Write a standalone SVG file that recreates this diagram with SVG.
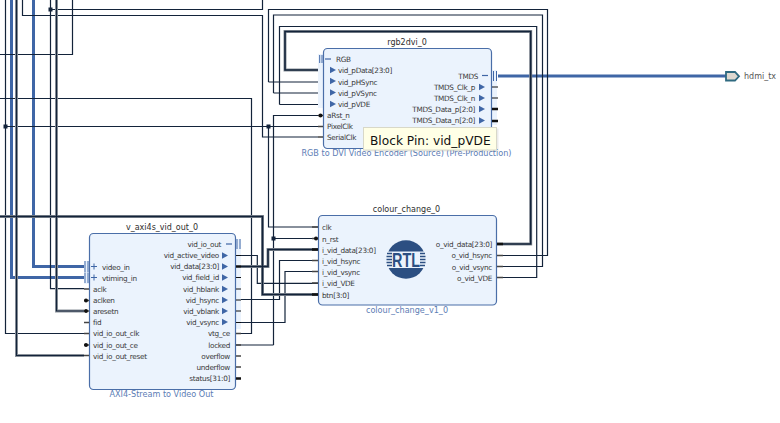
<svg xmlns="http://www.w3.org/2000/svg" width="780" height="423" viewBox="0 0 780 423">
<defs>
<polygon id="tri" points="0,-3.200 6,0 0,3.200" fill="#3f66a6"/>
</defs>
<style>
text{font-family:"DejaVu Sans",sans-serif;font-size:7.3px;letter-spacing:-.32px;fill:#3a3a3a}
.t{font-size:8px;letter-spacing:0;fill:#2e2e2e;text-anchor:middle}
.s{font-size:8.1px;letter-spacing:0;fill:#5d7db5;text-anchor:middle}
.e{text-anchor:end}
.n{fill:#ebf3fd;stroke:#4a6ea8;stroke-width:1.2}
.g{fill:#ebf3fd}
.w{fill:none;stroke:#13233a;stroke-width:1.2}
.h{fill:none;stroke:#8a9199;stroke-width:3}
.k{fill:none;stroke:#13233a;stroke-width:1.6}
.c{fill:none;stroke:#13233a;stroke-width:1.1}
.b{fill:none;stroke:#3f66a6;stroke-width:3}
.p{stroke:#444;stroke-width:1.5}
.q{stroke:#111;stroke-width:2.5}
</style>
<g id="connectors">
<path class="b" d="M33.5 0V266.5H84M11.5 0V277.5H84M498 76H726"/>
<path class="w" d="M5.500 0V333.500H84M22.500 0V15.500H262.500V137H318M72.500 0V54.500H0M50.500 0V288.700H84M50.500 9.500H262.500V0M0 98.500H251.500V333.500H236M5.500 126.500H318M268.500 126.500V227H318M268.500 82V9.500H547.500V255.500H497M273.500 93V15H542.500V266.500H497M279.500 104.500V26.500H536.700V277.500H497M279.500 104.500H323M268.500 82H323M273.500 93H323M273.500 345V115.500H318M273.500 238.500H318M236 255.500H257.300V283.300H318M236 299.500H279.500V260.500H318M236 322.500H285V271.500H318M236 345H273.500"/>
<path class="h" d="M16.5 0V355.500H84M56.500 0V311H84M0 216.500H262.500V294.500H318M236 266.500H268V249.500H318M497 244H530.700V31.500H285V70H323"/>
<path class="k" d="M0 216.500H262.500V294.500H318M236 266.500H268V249.500H318M497 244H530.700V31.500H285V70H323"/>
<path class="c" d="M16.5 0V355.500H84M56.500 0V311H84"/>
</g>
<g fill="#13233a">
<rect x="48.500" y="7.500" width="4" height="4"/><rect x="3.500" y="124.500" width="4" height="4"/><rect x="266.500" y="124.500" width="4" height="4"/><rect x="271.500" y="236.500" width="4" height="4"/>
</g>
<g id="rgb2dvi_0">
<rect class="g" x="318" y="54" width="6" height="54"/><rect class="g" x="491" y="70" width="6" height="55"/>
<rect class="n" x="323.500" y="48.500" width="168" height="100" rx="4"/>
<path d="M319.700 55V63M322 55V63" stroke="#3f66a6" stroke-width="1"/><path d="M325 59H331" stroke="#3f66a6" stroke-width="1.2"/>
<text x="336" y="62">RGB</text>
<use href="#tri" x="330" y="70"/><text x="338" y="73">vid_pData[23:0]</text>
<use href="#tri" x="330" y="81"/><text x="338" y="84.500">vid_pHSync</text>
<use href="#tri" x="330" y="92.500"/><text x="338" y="95.500">vid_pVSync</text>
<use href="#tri" x="330" y="104"/><text x="338" y="107">vid_pVDE</text>
<text x="327" y="118">aRst_n</text><text x="327" y="129">PixelClk</text><text x="327" y="140">SerialClk</text>
<path class="p" d="M318 115.500H323M318 126.500H323M318 137H323"/>
<circle cx="320.500" cy="115.500" r="2" fill="#111"/>
<text class="e" x="478" y="79">TMDS</text><path d="M482 75.500H488" stroke="#3f66a6" stroke-width="1.2"/>
<path d="M493.500 71V81M496.500 71V81" stroke="#3f66a6" stroke-width="1"/>
<text class="e" x="475" y="90">TMDS_Clk_p</text><use href="#tri" x="479" y="87"/>
<text class="e" x="475" y="101">TMDS_Clk_n</text><use href="#tri" x="479" y="98"/>
<text class="e" x="475" y="112">TMDS_Data_p[2:0]</text><use href="#tri" x="479" y="109"/>
<text class="e" x="475" y="123">TMDS_Data_n[2:0]</text><use href="#tri" x="479" y="120.500"/>
<path d="M492 87H498M492 98H498" stroke="#111" stroke-width="1"/><path class="q" d="M492 109H498M492 121H498"/>
<text class="t" x="407" y="45">rgb2dvi_0</text>
<text class="s" x="406.500" y="156">RGB to DVI Video Encoder (Source) (Pre-Production)</text>
</g>
<g id="hdmi_tx">
<path d="M726 72H735L739 76.300L735 80.500H726Z" fill="#ddd8d0" stroke="#2f6a80" stroke-width="1.8"/>
<text x="744" y="79" style="fill:#555;font-size:8px;letter-spacing:0">hdmi_tx</text>
</g>
<g id="colour_change_0">
<rect class="n" x="318.500" y="215.500" width="178" height="89.500" rx="4"/>
<path class="p" d="M312 227H318M312 260.500H318M312 271.500H318M312 283H318M497 255.500H503M497 266.500H503M497 277.500H503"/>
<path class="q" d="M312 249.500H318M312 294.500H318M497 244H503"/>
<path class="p" d="M312 238.500H318"/><circle cx="316" cy="238.500" r="2" fill="#111"/>
<text x="322" y="230">clk</text><text x="322" y="241.500">n_rst</text><text x="322" y="252.500">i_vid_data[23:0]</text><text x="322" y="263.500">i_vid_hsync</text><text x="322" y="274.500">i_vid_vsync</text><text x="322" y="285.500">i_vid_VDE</text><text x="322" y="297.500">btn[3:0]</text>
<text class="e" x="492" y="246.500">o_vid_data[23:0]</text><text class="e" x="492" y="257.500">o_vid_hsync</text><text class="e" x="492" y="269.500">o_vid_vsync</text><text class="e" x="492" y="280.500">o_vid_VDE</text>
<circle cx="406" cy="259.500" r="19.300" fill="#2c4f82"/>
<rect x="386" y="251.500" width="40" height="16.500" fill="#ebf3fd"/>
<path d="M387 253.500H392M386.500 256.500H392M386.500 259.500H392M386.500 262.500H392M387 265.500H392M420 253.500H425M420 256.500H425.500M420 259.500H425.500M420 262.500H425.500M420 265.500H425" stroke="#2c4f82" stroke-width="1.500"/>
<text x="406" y="266.500" text-anchor="middle" textLength="28" lengthAdjust="spacingAndGlyphs" style="font-family:'Liberation Sans',sans-serif;font-size:20px;font-weight:bold;letter-spacing:0;fill:#2c4f82">RTL</text>
<text class="t" x="406.500" y="212">colour_change_0</text>
<text class="s" x="407" y="313">colour_change_v1_0</text>
</g>
<g id="v_axi4s_vid_out_0">
<rect class="g" x="84" y="261" width="6" height="23"/><rect class="g" x="235" y="239" width="6" height="90"/>
<rect class="n" x="89.500" y="233.500" width="146" height="156" rx="4"/>
<path d="M85 261V272M88 261V272M85 272.500V283M88 272.500V283" stroke="#3f66a6" stroke-width="1"/>
<path d="M91 266.500H97M94 263.500V269.500M91 277.500H97M94 274.500V280.500" stroke="#3f66a6" stroke-width="1"/>
<text x="102" y="269.500">video_in</text><text x="102" y="280.500">vtiming_in</text>
<text x="93" y="292">aclk</text><text x="93" y="303">aclken</text><text x="93" y="314">aresetn</text><text x="93" y="325">fid</text><text x="93" y="336">vid_io_out_clk</text><text x="93" y="347.500">vid_io_out_ce</text><text x="93" y="358.500">vid_io_out_reset</text>
<path class="p" d="M84 289H89M84 300.500H89M84 311H89M84 322.500H89M84 333.500H89M84 345H89M84 355.500H89"/>
<circle cx="86" cy="300.500" r="2" fill="#111"/><circle cx="86" cy="311" r="2" fill="#111"/><circle cx="86" cy="345" r="2" fill="#111"/>
<text class="e" x="221" y="247">vid_io_out</text><path d="M226 244H232" stroke="#3f66a6" stroke-width="1.2"/><path d="M237 239V249M240 239V249" stroke="#3f66a6" stroke-width="1"/>
<text class="e" x="219" y="258">vid_active_video</text><use href="#tri" x="222" y="255.500"/>
<text class="e" x="219" y="269">vid_data[23:0]</text><use href="#tri" x="222" y="266.500"/>
<text class="e" x="219" y="280">vid_field_id</text><use href="#tri" x="222" y="277.500"/>
<text class="e" x="219" y="291.500">vid_hblank</text><use href="#tri" x="222" y="289"/>
<text class="e" x="219" y="302.500">vid_hsync</text><use href="#tri" x="222" y="300"/>
<text class="e" x="219" y="313.500">vid_vblank</text><use href="#tri" x="222" y="311"/>
<text class="e" x="219" y="325">vid_vsync</text><use href="#tri" x="222" y="322"/>
<text class="e" x="230" y="336">vtg_ce</text><text class="e" x="230" y="347.500">locked</text><text class="e" x="230" y="358.500">overflow</text><text class="e" x="230" y="369.500">underflow</text><text class="e" x="230" y="380.500">status[31:0]</text>
<path d="M236 255.500H241M236 277.500H241M236 289H241M236 300H241M236 311H241M236 322.500H241" stroke="#111" stroke-width="1"/><path class="p" d="M236 333.500H241M236 345H241M236 356H241M236 367H241"/><path class="q" d="M236 266.500H241M236 378.500H241"/>
<text class="t" x="162" y="230">v_axi4s_vid_out_0</text>
<text class="s" x="161.500" y="397">AXI4-Stream to Video Out</text>
</g>
<g id="tooltip">
<rect x="364.500" y="128.500" width="134" height="23" fill="#000" opacity=".08"/>
<rect x="363.500" y="127.500" width="133" height="22.500" fill="#ffffe6" stroke="#d8d8c8"/>
<text x="370" y="145" style="font-size:12.200px;letter-spacing:0;fill:#111">Block Pin: vid_pVDE</text>
</g>
</svg>
